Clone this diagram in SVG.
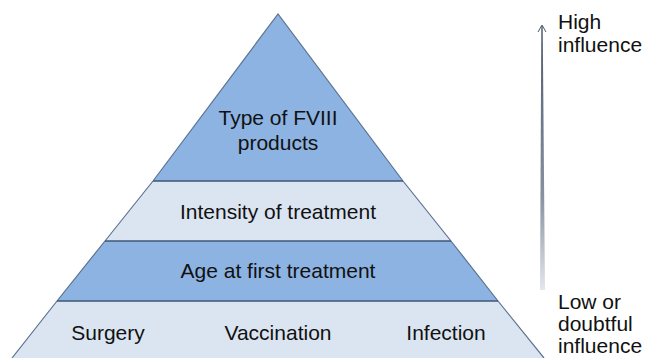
<svg xmlns="http://www.w3.org/2000/svg" width="646" height="358" viewBox="0 0 646 358">
  <defs>
    <linearGradient id="arrowGrad" x1="0" y1="1" x2="0" y2="0">
      <stop offset="0" stop-color="#e4e7ec"/>
      <stop offset="0.35" stop-color="#8a92a0"/>
      <stop offset="1" stop-color="#4f5a6e"/>
    </linearGradient>
  </defs>
  <style>
    .dark { fill: #8db3e2; }
    .light { fill: #dbe5f1; }
    .edge { stroke: #5b7190; stroke-width: 1.2; fill: none; }
    .sep { stroke: #3e5776; stroke-width: 1.6; }
    .lbl { font-family: "Liberation Sans", Arial, sans-serif; font-size: 21px; fill: #111; text-anchor: middle; }
    .side { font-family: "Liberation Sans", Arial, sans-serif; font-size: 21px; fill: #111; }
  </style>
  <rect width="646" height="358" fill="#ffffff"/>

  <g id="level1">
    <polygon class="dark" points="278,14 403,181 153,181"/>
    <text class="lbl" x="278" y="125">Type of FVIII</text>
    <text class="lbl" x="278" y="150">products</text>
  </g>
  <g id="level2">
    <polygon class="light" points="153,181 403,181 451,241 105,241"/>
    <text class="lbl" x="278" y="219">Intensity of treatment</text>
  </g>
  <g id="level3">
    <polygon class="dark" points="105,241 451,241 498,301 57,301"/>
    <text class="lbl" x="278" y="278">Age at first treatment</text>
  </g>
  <g id="level4">
    <polygon class="light" points="57,301 498,301 544,358 12,358"/>
    <text class="lbl" x="108" y="340">Surgery</text>
    <text class="lbl" x="278" y="340">Vaccination</text>
    <text class="lbl" x="446" y="340">Infection</text>
  </g>

  <g id="outline">
    <polyline class="edge" points="12,358 57,301 105,241 153,181 278,14 403,181 451,241 498,301 544,358"/>
    <line class="sep" x1="153" y1="181" x2="403" y2="181"/>
    <line class="sep" x1="105" y1="241" x2="451" y2="241"/>
    <line class="sep" x1="57" y1="301" x2="498" y2="301"/>
  </g>

  <g id="connectors">
    <polygon fill="url(#arrowGrad)" points="541.3,26 542.7,26 545,290 540,290"/>
    <polyline points="538,32 542,25 546,32" fill="none" stroke="#4f5a6e" stroke-width="1"/>
  </g>

  <g id="label-high">
    <text class="side" x="558" y="29">High</text>
    <text class="side" x="558" y="52">influence</text>
  </g>
  <g id="label-low">
    <text class="side" x="558" y="309">Low or</text>
    <text class="side" x="558" y="331">doubtful</text>
    <text class="side" x="558" y="353">influence</text>
  </g>
</svg>
